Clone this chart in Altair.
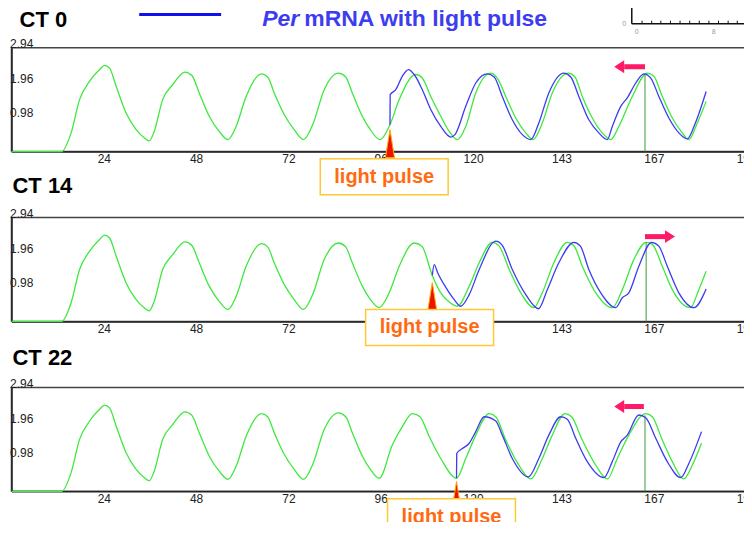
import altair as alt
import pandas as pd

# ---------------- data ----------------
HOUR_TICKS = [24, 48, 72, 96, 120, 143, 167, 191]
Y_TICKS = [0.98, 1.96, 2.94]
PANEL_TITLES = ["CT 0", "CT 14", "CT 22"]

# free-running trace (green) before the pulse, shared by the three panels
green_base_h = [0, 13, 15.5, 17.7, 20.3, 22.9, 24.2, 25.5, 27.2, 29.8, 32.4, 34.5, 35.8,
                37.1, 39.3, 41.9, 45.1, 46.9, 48.8, 51.4, 54, 56.3, 58.4, 61, 65, 66.6,
                68.3, 70.9, 73.5, 75.9, 78.3, 81.3, 85, 86.9, 88.6, 91.2, 93.0]
green_base_v = [0, 0, 0.53, 1.47, 1.99, 2.32, 2.44, 2.36, 1.85, 1.09, 0.62, 0.39, 0.30,
                0.57, 1.47, 1.89, 2.25, 2.15, 1.66, 1.0, 0.57, 0.34, 0.71, 1.56, 2.2, 2.11,
                1.66, 1.05, 0.62, 0.34, 0.76, 1.75, 2.22, 2.11, 1.66, 1.0, 0.67]

# green, remaining part of each panel
green1_h = [95.8, 98.4, 100.8, 105.1, 106.8, 109, 111.6, 113.8, 115.9, 118.1, 120.7, 124.6,
            126.3, 128.5, 131.1, 133.7, 135.6, 138, 140.6, 144.8, 146.5, 148.4, 151, 153.6,
            155.8, 157.9, 161.4, 165.3, 167, 169.2, 171.8, 174.4, 176.1, 178.3, 180.6]
green1_v = [0.34, 0.76, 1.47, 2.18, 2.08, 1.56, 1.0, 0.57, 0.34, 0.71, 1.66, 2.22,
            2.08, 1.56, 0.95, 0.53, 0.34, 0.81, 1.66, 2.22, 2.11, 1.56, 0.95, 0.53,
            0.34, 0.71, 1.56, 2.22, 2.13, 1.56, 0.95, 0.53, 0.34, 0.81, 1.42]
green2_h = [95.6, 98.2, 100.8, 104.7, 106.7, 109.4, 111.6, 113.8, 115.9, 119, 121.6, 125,
            126.8, 129.4, 132.4, 135.8, 138, 141, 144.5, 146.2, 148.4, 151.9, 156.2, 158.8,
            161.8, 165, 166.6, 169.2, 171.8, 176.5, 178.7, 180.6]
green2_v = [0.39, 0.81, 1.56, 2.22, 2.13, 1.3, 0.81, 0.55, 0.43, 1.0, 1.66, 2.24,
            2.13, 1.47, 0.81, 0.39, 0.81, 1.66, 2.24, 2.15, 1.56, 0.81, 0.39, 0.9,
            1.75, 2.24, 2.18, 1.56, 0.9, 0.39, 0.9, 1.42]
green3_h = [95.6, 99, 101.6, 104.2, 106.2, 108.6, 111.6, 115.7, 118.1, 120.7, 124.2, 125.9,
            128.5, 131.9, 135, 138, 140.6, 143.9, 145.6, 148.4, 151.9, 154.9, 157.5, 160.5,
            164.9, 166.6, 169.2, 171.8, 174.8, 177, 179.4]
green3_v = [0.37, 1.31, 1.83, 2.2, 2.11, 1.55, 0.93, 0.37, 0.93, 1.59, 2.2, 2.11,
            1.45, 0.74, 0.35, 0.93, 1.59, 2.2, 2.11, 1.45, 0.74, 0.35, 0.93, 1.59,
            2.2, 2.11, 1.45, 0.84, 0.35, 0.74, 1.36]

# Per mRNA with light pulse (blue)
blue1_h = [98.4, 98.45, 99.9, 101.6, 103.2, 104.7, 106.8, 109, 111.6, 114.2, 115.3, 118.1,
           120.7, 123.7, 125.5, 127.6, 130.2, 132.8, 135, 137.1, 139.7, 143.6, 145.4, 147.5,
           150.1, 152.7, 154.9, 156.2, 158.4, 160.1, 162.3, 164.4, 166.2, 168.3, 170.9,
           173.5, 175.7, 177.8, 180.6]
blue1_v = [0.76, 1.61, 1.75, 2.13, 2.32, 2.18, 1.75, 1.19, 0.71, 0.41, 0.48, 1.28,
           1.94, 2.2, 2.11, 1.56, 0.9, 0.48, 0.34, 0.81, 1.66, 2.22, 2.11, 1.56,
           0.9, 0.53, 0.34, 0.71, 1.28, 1.52, 1.94, 2.2, 2.08, 1.56, 0.95,
           0.53, 0.36, 0.81, 1.7]
blue2_h = [109.4, 109.9, 110.8, 113, 115.1, 116.8, 119, 121.6, 125.9, 127.6, 130.2, 133.7,
           137, 139.3, 142.3, 146.2, 147.9, 150.1, 153.2, 157.1, 158.8, 160.5, 163.1, 166.4,
           168.3, 170.5, 173.5, 177.4, 180.6]
blue2_v = [1.3, 1.61, 1.38, 0.95, 0.62, 0.43, 0.76, 1.47, 2.27, 2.15, 1.47, 0.76,
           0.36, 0.9, 1.66, 2.24, 2.13, 1.47, 0.81, 0.39, 0.67, 0.81, 1.56, 2.24,
           2.13, 1.56, 0.81, 0.39, 0.92]
blue3_h = [115.7, 115.75, 117.2, 119, 120.7, 122.9, 125.9, 127.6, 130.2, 134.4, 137.1, 139.7,
           142.8, 144.5, 146.7, 149.7, 154, 156.2, 158.4, 160.1, 163.1, 164.9, 167.5, 170.5,
           174, 176.1, 179.4]
blue3_v = [0.37, 1.07, 1.21, 1.36, 1.69, 2.11, 1.99, 1.59, 0.93, 0.41, 0.93, 1.59,
           2.11, 2.04, 1.5, 0.84, 0.39, 0.84, 1.4, 1.59, 2.16, 2.08, 1.5, 0.84,
           0.39, 0.79, 1.69]

# annotations (hours / expression units of each panel)
pulse_h = [98.4, 109.4, 115.7]          # light pulse time
pulse_apex_v = [0.62, 1.1, 0.28]         # tip of the red marker
label_h = [96.9, 108.7, 114.4]           # "light pulse" box centre
label_v = [-0.71, -0.17, -0.72]
peak_h = [164.7, 165.0, 164.7]           # reference peak line
peak_v = [2.2, 2.24, 2.15]
arrow_tail = [164.7, 164.7, 164.4]
arrow_neck = [159.3, 169.9, 159.3]
arrow_tip = [156.7, 172.5, 156.7]
arrow_dir = ["left", "right", "left"]
arrow_v = [2.4, 2.4, 2.4]
title_h = [2.1, 0.26, 0.26]
title_v = [3.73, 3.84, 3.76]

# legend (panel 1 coordinates)
legend_line_h = [33.2, 54.5]
legend_line_v = 3.88
legend_v = 3.74
legend_per_h = 74.8
legend_rest_h = 76.1

# fragment of another chart in the top-right corner
frag_x_range = [-0.52, 11.95]
frag_top = 0.523
frag_ticks = [0.55, 1.55, 2.5, 3.5, 4.5, 5.5, 6.5, 7.5, 8.5, 9.5, 10.45, 11.5]
frag_labels = ["0", "8", "0", "0.5"]
frag_label_x = [0, 8, -1.32, -1.84]
frag_label_y = [-0.2, -0.2, 0, 0.5]

greens = [(green1_h, green1_v), (green2_h, green2_v), (green3_h, green3_v)]
blues = [(blue1_h, blue1_v), (blue2_h, blue2_v), (blue3_h, blue3_v)]

# ---------------- styles ----------------
GREEN = "#3ee83e"
BLUE = "#3c3cf0"
PINK = "#ff1a66"
ORANGE = "#ff6a10"
FONT = "Liberation Sans"

XS = alt.Scale(domain=[0, 192], nice=False, zero=False)
YS = alt.Scale(domain=[0, 2.94], nice=False, zero=False)
FXS = alt.Scale(domain=[0, 8], range=[625.7, 702.7], nice=False, zero=False)
FYS = alt.Scale(domain=[0, 0.5], range=[-24, -46], nice=False, zero=False)

x_axis = alt.Axis(values=HOUR_TICKS, ticks=False, grid=False, labelPadding=2,
                  labelFlush=False, labelOverlap=False, title=None,
                  domainColor="#222", domainWidth=1.5, labelFont=FONT,
                  labelFontSize=12, labelColor="#222")
y_axis = alt.Axis(values=Y_TICKS, format=".2f", ticks=False, grid=False,
                  labelAlign="left", labelBaseline="alphabetic", labelPadding=2,
                  labelFlush=False, labelOverlap=False, title=None,
                  domainColor="#222", domainWidth=1.5, labelFont=FONT,
                  labelFontSize=12, labelColor="#222")


def X(f):
    return alt.X(f, type="quantitative", scale=XS, axis=None)


def Y(f):
    return alt.Y(f, type="quantitative", scale=YS, axis=None)


def panel(k):
    gh = green_base_h + greens[k][0]
    gv = green_base_v + greens[k][1]
    gdf = pd.DataFrame({"h": gh, "v": gv, "i": list(range(len(gh)))})
    bdf = pd.DataFrame({"h": blues[k][0], "v": blues[k][1],
                        "i": list(range(len(blues[k][0])))})
    ann = pd.DataFrame({
        "pulse": [pulse_h[k]], "apex": [pulse_apex_v[k]],
        "lh": [label_h[k]], "lv": [label_v[k]],
        "ph": [peak_h[k]], "pv": [peak_v[k]], "zero": [0.0],
        "tail": [arrow_tail[k]], "neck": [arrow_neck[k]], "tip": [arrow_tip[k]],
        "av": [arrow_v[k]], "th": [title_h[k]], "tv": [title_v[k]],
        "title": [PANEL_TITLES[k]], "txt": ["light pulse"],
    })
    base = alt.Chart(ann)
    peak_rule = base.mark_rule(color="#3a9a3a", strokeWidth=1).encode(
        x=X("ph"), y=Y("pv"), y2="zero")
    green = alt.Chart(gdf).mark_line(color=GREEN, strokeWidth=1.3,
                                     interpolate="monotone").encode(
        x=alt.X("h:Q", scale=XS, axis=x_axis),
        y=alt.Y("v:Q", scale=YS, axis=y_axis), order="i:Q")
    blue = alt.Chart(bdf).mark_line(color=BLUE, strokeWidth=1.3,
                                    interpolate="monotone").encode(
        x=X("h"), y=Y("v"), order="i:Q")
    shaft = base.mark_rule(color=PINK, strokeWidth=5).encode(
        x=X("neck"), x2="tail", y=Y("av"))
    head_shape = "M0,0L10,-6.5L10,6.5Z" if arrow_dir[k] == "left" else "M0,0L-10,-6.5L-10,6.5Z"
    head = base.mark_point(shape=head_shape, size=4, filled=True, color=PINK,
                           opacity=1).encode(x=X("tip"), y=Y("av"))
    tri = base.mark_point(shape="M0,0L4.5,28L-4.5,28Z", size=4, filled=True,
                          color="#ee1100", stroke="#ffaa00", strokeWidth=1,
                          opacity=1).encode(x=X("pulse"), y=Y("apex"))
    box = base.mark_point(shape="M-64,-18L64,-18L64,18L-64,18Z", size=4,
                          filled=True, fill="white", stroke="#ffc830",
                          strokeWidth=1.5, opacity=1).encode(x=X("lh"), y=Y("lv"))
    label = base.mark_text(font=FONT, fontSize=20, fontWeight="bold", color=ORANGE,
                           align="center", baseline="middle").encode(
        x=X("lh"), y=Y("lv"), text="txt:N")
    title = base.mark_text(font=FONT, fontSize=22, fontWeight="bold", color="black",
                           align="left", baseline="middle").encode(
        x=X("th"), y=Y("tv"), text="title:N")
    layers = [green, peak_rule, blue, shaft, head, tri, box, label, title]

    if k == 0:
        leg = pd.DataFrame({"h1": [legend_line_h[0]], "h2": [legend_line_h[1]],
                            "lv": [legend_line_v],
                            "v": [legend_v], "ph": [legend_per_h], "rh": [legend_rest_h],
                            "per": ["Per"], "rest": ["mRNA with light pulse"]})
        lb = alt.Chart(leg)
        layers += [
            lb.mark_rule(color="#1010ee", strokeWidth=3).encode(x=X("h1"), x2="h2", y=Y("lv")),
            lb.mark_text(font=FONT, fontSize=23, fontWeight="bold", fontStyle="italic",
                         color=BLUE, align="right", baseline="middle").encode(
                x=X("ph"), y=Y("v"), text="per:N"),
            lb.mark_text(font=FONT, fontSize=23, fontWeight="bold",
                         color=BLUE, align="left", baseline="middle").encode(
                x=X("rh"), y=Y("v"), text="rest:N"),
        ]
        fl = pd.DataFrame({"x1": [frag_x_range[0]] * 3,
                           "x2": [frag_x_range[1], frag_x_range[0], frag_x_range[1]],
                           "y1": [0, 0, frag_top], "y2": [0, frag_top, frag_top]})
        ft = pd.DataFrame({"x": frag_ticks, "y1": [0] * len(frag_ticks),
                           "y2": [0.068] * len(frag_ticks)})
        flab = pd.DataFrame({"x": frag_label_x, "y": frag_label_y, "t": frag_labels})
        FX = lambda f: alt.X(f, type="quantitative", scale=FXS, axis=None)
        FY = lambda f: alt.Y(f, type="quantitative", scale=FYS, axis=None)
        layers += [
            alt.Chart(fl).mark_rule(color="#111", strokeWidth=1.5).encode(
                x=FX("x1"), x2="x2", y=FY("y1"), y2="y2"),
            alt.Chart(ft).mark_rule(color="#111", strokeWidth=1).encode(
                x=FX("x"), y=FY("y1"), y2="y2"),
            alt.Chart(flab).mark_text(font=FONT, fontSize=7, color="#999",
                                      align="center", baseline="middle").encode(
                x=FX("x"), y=FY("y"), text="t:N"),
        ]
    ch = alt.layer(*layers).resolve_scale(x="independent", y="independent")
    return ch.properties(width=739, height=104)


chart = alt.vconcat(panel(0), panel(1), panel(2), spacing=66, bounds="flush").properties(
    padding={"left": -0.5, "top": -11.5, "right": -13, "bottom": -18},
    background="white",
).configure_view(stroke="#444", strokeWidth=1.5)

chart.save("out.html", embed_options={"renderer": "svg", "actions": False})
